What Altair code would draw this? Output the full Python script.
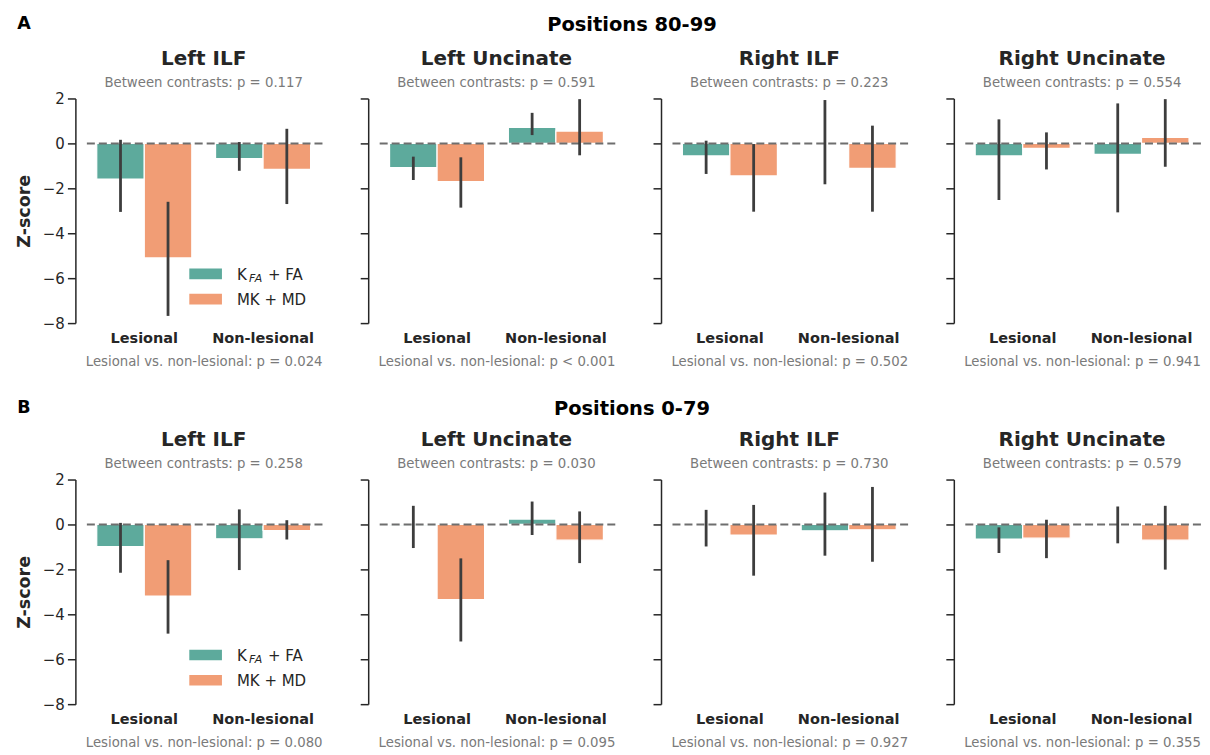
import altair as alt
import pandas as pd

FONT = "DejaVu Sans"
TEAL = "#5daa9c"
SALMON = "#f19d75"
DARK = "#262626"
GRAY = "#7a7a7a"

tracts = ["Left ILF", "Left Uncinate", "Right ILF", "Right Uncinate"]
groups = ["Lesional", "Non-lesional"]
contrasts = ["KFA + FA", "MK + MD"]
row_letters = ["A", "B"]
row_titles = ["Positions 80-99", "Positions 0-79"]
y_ticks = [-8, -6, -4, -2, 0, 2]

# Row A (positions 80-99): per tract [lesional, non-lesional]
a_kfa_mean = [[-1.59, -0.68], [-1.08, 0.71], [-0.56, 0.00], [-0.56, -0.49]]
a_kfa_lo = [[-3.05, -1.22], [-1.63, 0.37], [-1.36, -1.82], [-2.52, -3.07]]
a_kfa_hi = [[0.16, 0.06], [-0.59, 1.36], [0.12, 1.93], [1.07, 1.78]]
a_mk_mean = [[-5.10, -1.16], [-1.70, 0.55], [-1.45, -1.11], [-0.22, 0.27]]
a_mk_lo = [[-7.68, -2.70], [-2.86, -0.53], [-3.04, -3.04], [-1.16, -1.04]]
a_mk_hi = [[-2.60, 0.65], [-0.62, 1.97], [-0.03, 0.79], [0.49, 1.97]]
a_p_between = ["0.117", "0.591", "0.223", "0.554"]
a_p_lesion = ["= 0.024", "< 0.001", "= 0.502", "= 0.941"]

# Row B (positions 0-79)
b_kfa_mean = [[-0.99, -0.64], [-0.03, 0.24], [-0.05, -0.28], [-0.65, -0.02]]
b_kfa_lo = [[-2.15, -2.03], [-1.05, -0.47], [-0.98, -1.39], [-1.27, -0.84]]
b_kfa_hi = [[0.07, 0.67], [0.83, 1.02], [0.65, 1.42], [-0.13, 0.80]]
b_mk_mean = [[-3.19, -0.27], [-3.35, -0.70], [-0.47, -0.24], [-0.61, -0.70]]
b_mk_lo = [[-4.86, -0.67], [-5.21, -1.72], [-2.28, -1.66], [-1.50, -2.01]]
b_mk_hi = [[-1.59, 0.19], [-1.51, 0.58], [0.87, 1.67], [0.21, 0.83]]
b_p_between = ["0.258", "0.030", "0.730", "0.579"]
b_p_lesion = ["= 0.080", "= 0.095", "= 0.927", "= 0.355"]

rows_data = [
    (a_kfa_mean, a_kfa_lo, a_kfa_hi, a_mk_mean, a_mk_lo, a_mk_hi, a_p_between, a_p_lesion),
    (b_kfa_mean, b_kfa_lo, b_kfa_hi, b_mk_mean, b_mk_lo, b_mk_hi, b_p_between, b_p_lesion),
]

W, H = 238, 225
HEADER_Y = [-69.5, -66.5]


def panel(r, t):
    km, kl, kh, mm, ml, mh, pb, pl = rows_data[r]
    recs = []
    for g in range(2):
        recs.append({"group": groups[g], "contrast": contrasts[0], "mean": km[t][g], "lo": kl[t][g], "hi": kh[t][g]})
        recs.append({"group": groups[g], "contrast": contrasts[1], "mean": mm[t][g], "lo": ml[t][g], "hi": mh[t][g]})
    df = pd.DataFrame(recs)
    first = t == 0

    x_axis = alt.Axis(
        title="Lesional vs. non-lesional: p " + pl[t],
        titleFont=FONT, titleFontSize=13.3, titleFontWeight="normal", titleColor=GRAY, titlePadding=10,
        labelFont=FONT, labelFontSize=14.5, labelFontWeight="bold", labelColor=DARK,
        labelAngle=0, labelPadding=8, domain=False, ticks=False, tickSize=0,
    )
    if first:
        y_axis = alt.Axis(
            values=y_ticks, title="Z-score", titleFont=FONT, titleFontSize=17.5, titleFontWeight="bold",
            titleColor=DARK, titlePadding=9, labelFont=FONT, labelFontSize=15, labelColor=DARK,
            labelPadding=3, tickSize=8, tickWidth=1.5, tickColor=DARK, domainColor=DARK,
            domainWidth=1.5, offset=9.5, grid=False,
        )
    else:
        y_axis = alt.Axis(
            values=y_ticks, title=None, labels=False, tickSize=8, tickWidth=1.5, tickColor=DARK,
            domainColor=DARK, domainWidth=1.5, offset=9.5, grid=False,
        )
    x_enc = alt.X("group:N", sort=groups,
                  scale=alt.Scale(domain=groups, paddingInner=0.2, paddingOuter=0.1), axis=x_axis)
    xo_enc = alt.XOffset("contrast:N", sort=contrasts,
                         scale=alt.Scale(domain=contrasts, paddingInner=0, paddingOuter=0))
    y_scale = alt.Scale(domain=[-8, 2], nice=False, zero=False)

    base = alt.Chart(df)
    bars = base.mark_bar(stroke="white", strokeWidth=1.2).encode(
        x=x_enc, xOffset=xo_enc,
        y=alt.Y("mean:Q", scale=y_scale, axis=y_axis),
        color=alt.Color("contrast:N", scale=alt.Scale(domain=contrasts, range=[TEAL, SALMON]), legend=None),
    )
    zero = alt.Chart(pd.DataFrame({"z": [0]})).mark_rule(
        color="#6e6e6e", strokeWidth=2, strokeDash=[8, 4]
    ).encode(y=alt.Y("z:Q", scale=y_scale, axis=y_axis))
    err = base.mark_rule(color="#3d3d3d", strokeWidth=2.8).encode(
        x=x_enc, xOffset=xo_enc,
        y=alt.Y("lo:Q", scale=y_scale, axis=y_axis), y2="hi:Q",
    )
    info = alt.Chart(pd.DataFrame({
        "title": [tracts[t]], "sub": ["Between contrasts: p = " + pb[t]],
        "letter": [row_letters[r]], "row_title": [row_titles[r]],
    }))
    layers = [
        bars, zero, err,
        info.mark_text(font=FONT, fontSize=20, fontWeight="bold", color=DARK, align="center", baseline="alphabetic").encode(
            x=alt.value(W / 2), y=alt.value(-34), text="title:N"),
        info.mark_text(font=FONT, fontSize=13.3, color=GRAY, align="center", baseline="alphabetic").encode(
            x=alt.value(W / 2), y=alt.value(-11.5), text="sub:N"),
    ]
    if first:
        layers += [
            info.mark_text(font=FONT, fontSize=17.5, fontWeight="bold", color="black", align="center", baseline="alphabetic").encode(
                x=alt.value(-61), y=alt.value(HEADER_Y[r]), text="letter:N"),
            info.mark_text(font=FONT, fontSize=19.5, fontWeight="bold", color="black", align="center", baseline="alphabetic").encode(
                x=alt.value(548), y=alt.value(HEADER_Y[r] + 1.5), text="row_title:N"),
            info.mark_rect(color=TEAL).encode(x=alt.value(104.6), x2=alt.value(137.3), y=alt.value(170.4), y2=alt.value(181)),
            info.mark_rect(color=SALMON).encode(x=alt.value(104.6), x2=alt.value(137.3), y=alt.value(195.7), y2=alt.value(206.4)),
            info.mark_text(font=FONT, fontSize=15, color=DARK, align="left", baseline="alphabetic", text="K").encode(
                x=alt.value(152.3), y=alt.value(181.5)),
            info.mark_text(font=FONT, fontSize=11, fontStyle="italic", color=DARK, align="left", baseline="alphabetic", text="FA").encode(
                x=alt.value(164.5), y=alt.value(183.5)),
            info.mark_text(font=FONT, fontSize=15, color=DARK, align="left", baseline="alphabetic", text="+ FA").encode(
                x=alt.value(183.5), y=alt.value(181.5)),
            info.mark_text(font=FONT, fontSize=15, color=DARK, align="left", baseline="alphabetic", text="MK + MD").encode(
                x=alt.value(152.3), y=alt.value(206.7)),
        ]
    return alt.layer(*layers).properties(width=W, height=H)


panels = [panel(r, t) for r in range(2) for t in range(4)]

chart = alt.concat(
    *panels, columns=4, spacing={"row": 156.7, "column": 55.3}, bounds="flush"
).configure(
    font=FONT, padding={"left": 7, "top": 6, "right": 0, "bottom": 0}
).configure_view(stroke=None).configure_axis(grid=False)

chart.save("out.html", embed_options={"renderer": "svg", "actions": False})
